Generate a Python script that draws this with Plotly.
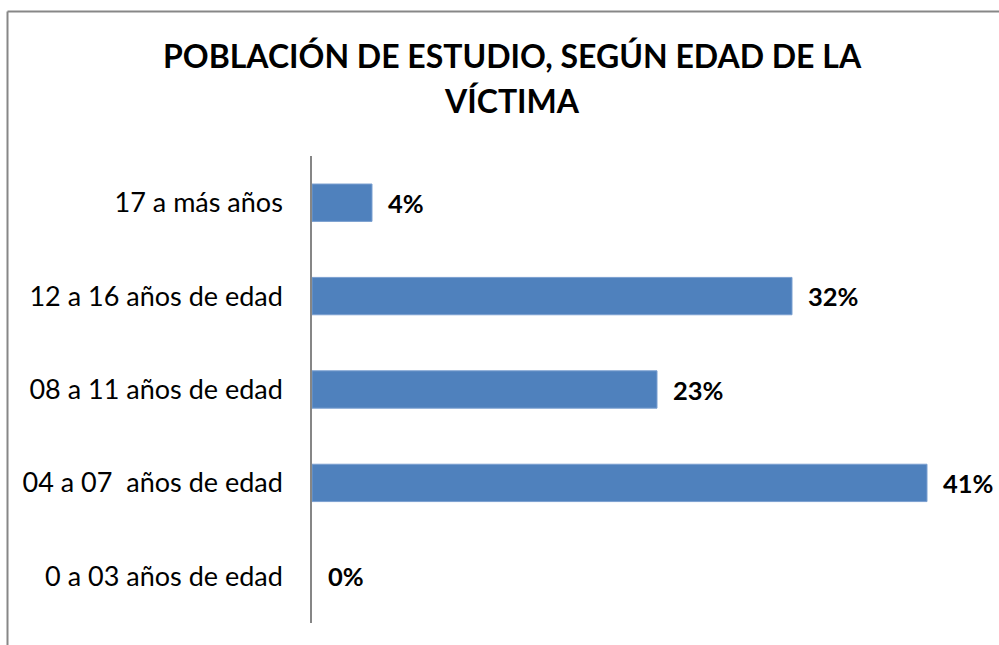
import plotly.graph_objects as go

# Age groups of the victims (bottom to top) and their share in percent
categorias = [
    "0 a 03 años de edad",
    "04 a 07\u00a0 años de edad",
    "08 a 11 años de edad",
    "12 a 16 años de edad",
    "17 a más años",
]
porcentajes = [0, 41, 23, 32, 4]

titulo_lineas = ["POBLACIÓN DE ESTUDIO, SEGÚN EDAD DE LA", "VÍCTIMA"]

W, H = 999, 645
L, R, T, B = 312, 12, 156, 22
PW, PH = W - L - R, H - T - B

FONT = "Lato, 'Open Sans', sans-serif"
AZUL = "#4F81BD"


def px_x(px):
    return (px - L) / PW


def px_y(py):
    return (H - B - py) / PH


fig = go.Figure(
    go.Bar(
        x=porcentajes,
        y=categorias,
        orientation="h",
        width=0.4,
        marker=dict(
            color=AZUL,
            line=dict(color="#7A9FD0", width=[0 if v == 0 else 1 for v in porcentajes]),
        ),
        hoverinfo="skip",
    )
)

# Value labels to the right of each bar
for c, v in zip(categorias, porcentajes):
    fig.add_annotation(
        x=v, y=c, xref="x", yref="y",
        text=f"<b>{v}%</b>", showarrow=False,
        xanchor="left", yanchor="middle", xshift=14,
        font=dict(family=FONT, size=25.5, color="#000000"),
    )

# Title, two centred lines
for texto, yc in zip(titulo_lineas, [56, 100]):
    fig.add_annotation(
        x=px_x(512), y=px_y(yc), xref="paper", yref="paper",
        text=f"<b>{texto}</b>", showarrow=False,
        xanchor="center", yanchor="middle",
        font=dict(family=FONT, size=32, color="#000000"),
    )

# Chart frame (top and left edges)
fig.add_shape(type="line", xref="paper", yref="paper",
              x0=px_x(7.5), x1=px_x(1005), y0=px_y(11.5), y1=px_y(11.5),
              line=dict(color="#878787", width=2))
fig.add_shape(type="line", xref="paper", yref="paper",
              x0=px_x(7.5), x1=px_x(7.5), y0=px_y(11.5), y1=px_y(660),
              line=dict(color="#878787", width=2))

fig.update_layout(
    width=W, height=H,
    margin=dict(l=L, r=R, t=T, b=B),
    paper_bgcolor="white", plot_bgcolor="white",
    showlegend=False,
    font=dict(family=FONT, color="#000000"),
    xaxis=dict(range=[0, 45], visible=False, fixedrange=True),
    yaxis=dict(
        type="category",
        categoryorder="array", categoryarray=categorias,
        range=[-0.5, 4.5],
        showline=True, linecolor="#868686", linewidth=1.5,
        showgrid=False, zeroline=False,
        ticks="", ticklabelstandoff=22,
        tickfont=dict(family=FONT, size=27, color="#000000"),
        fixedrange=True,
    ),
)

fig.write_html("out.html")
